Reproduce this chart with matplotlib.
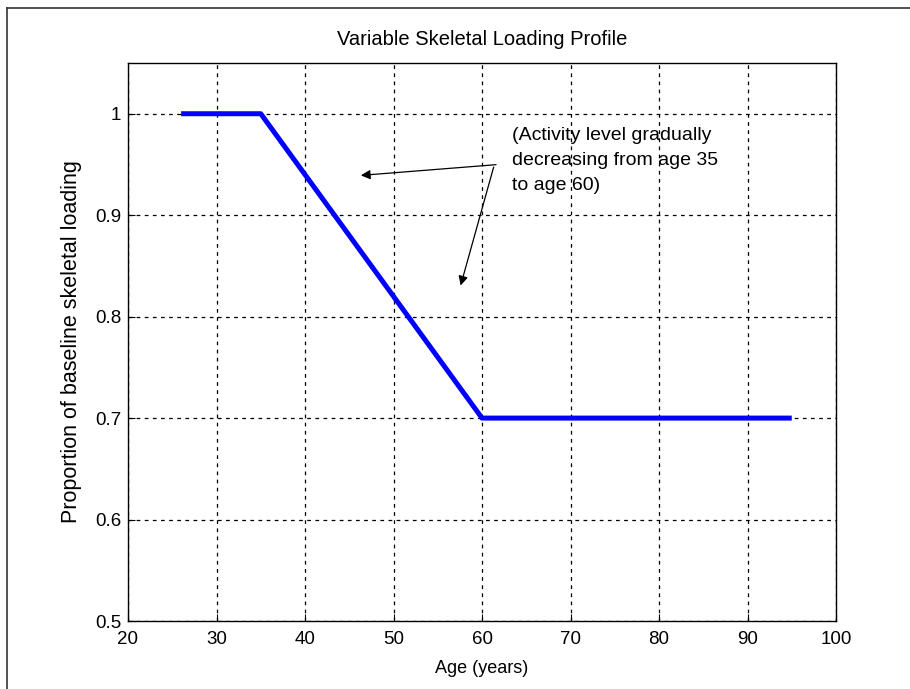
import matplotlib
matplotlib.use('Agg')
import matplotlib.pyplot as plt
from matplotlib.lines import Line2D

plt.rcParams['font.family'] = ['Liberation Sans', 'DejaVu Sans']

# profile
age = [26, 35, 60, 95]
loading = [1.0, 1.0, 0.7, 0.7]

xticks = [20, 30, 40, 50, 60, 70, 80, 90, 100]
yticks = [0.5, 0.6, 0.7, 0.8, 0.9, 1.0]
yticklabels = ['0.5', '0.6', '0.7', '0.8', '0.9', '1']

note = '(Activity level gradually\ndecreasing from age 35\nto age 60)'

fig = plt.figure(figsize=(9.1, 6.89), dpi=100)
ax = fig.add_axes([128 / 910, 1 - 621 / 689, 708 / 910, 558 / 689])

ax.plot(age, loading, c='#0000ff', lw=3.6, solid_capstyle='butt', zorder=3)

ax.set_xlim(20, 100)
ax.set_ylim(0.5, 1.05)
ax.set_xticks(xticks)
ax.set_yticks(yticks)
ax.set_yticklabels(yticklabels)
ax.tick_params(direction='in', length=5, labelsize=13.5, top=False, right=False)
ax.tick_params(axis='x', pad=7)
ax.tick_params(axis='y', pad=5)
ax.grid(True, c='black', ls=(0, (3, 3.5)), lw=0.9)
for s in ax.spines.values():
    s.set_linewidth(1.0)

ax.set_title('Variable Skeletal Loading Profile', fontsize=14.5, pad=13)
ax.set_xlabel('Age (years)', fontsize=13, labelpad=9)
ax.set_ylabel('Proportion of baseline skeletal loading', fontsize=15.5, labelpad=9)

ax.text(63.4, 0.987, note, fontsize=14, va='top', ha='left', linespacing=1.6, zorder=4)
ax.annotate('', xy=(46.0, 0.939), xytext=(61.9, 0.95),
            arrowprops=dict(arrowstyle='-|>', color='black', lw=0.9, mutation_scale=14))
ax.annotate('', xy=(57.5, 0.828), xytext=(61.4, 0.95),
            arrowprops=dict(arrowstyle='-|>', color='black', lw=0.9, mutation_scale=14))

# screenshot frame
fig.add_artist(Line2D([7 / 910, 7 / 910], [0, 1 - 8 / 689], c='#333333', lw=1.2))
fig.add_artist(Line2D([7 / 910, 1], [1 - 8 / 689, 1 - 8 / 689], c='#333333', lw=1.2))

fig.savefig('out.png', dpi=100)
